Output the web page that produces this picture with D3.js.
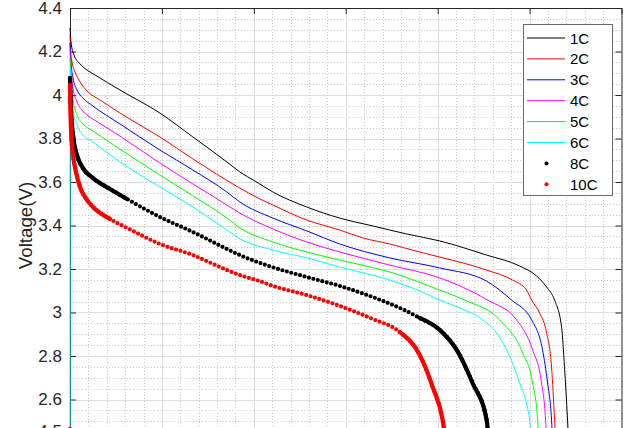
<!DOCTYPE html>
<html><head><meta charset="utf-8">
<script src="https://cdn.jsdelivr.net/npm/d3@7"></script>
<style>
body{margin:0;background:#fff}
svg{display:block;font-family:"Liberation Sans",Arial,Helvetica,sans-serif}
</style>
</head><body>
<svg id="chart" width="625" height="428"></svg>
<script>
// ---------- data ----------
const seriesNames  = ["1C","2C","3C","4C","5C","6C","8C","10C"];
const seriesColors = ["#000000","#ff0000","#0000ff","#ff00ff","#00ff00","#00ffff","#000000","#ff0000"];
const seriesKinds  = ["line","line","line","line","line","line","dots","dots"];

const x1C = [0,0.011,0.043,0.109,0.185,0.272,0.543,0.978,1.337,1.707,1.848,2.011,2.207,2.576,2.935,3.293,3.663,4.022,4.533,4.891,5.076,5.185,5.272,5.348,5.380,5.413,5.424];
const v1C = [4.308,4.244,4.184,4.143,4.115,4.092,4.023,3.917,3.807,3.692,3.646,3.605,3.554,3.485,3.434,3.398,3.361,3.329,3.264,3.214,3.168,3.117,3.057,2.933,2.749,2.506,2.414];

const x2C = [0,0.005,0.022,0.054,0.109,0.196,0.326,0.543,0.978,1.337,1.848,2.065,2.207,2.576,2.935,3.185,3.478,3.804,4.022,4.533,4.815,4.967,5.022,5.109,5.185,5.239,5.272,5.283];
const v2C = [4.276,4.207,4.152,4.106,4.060,4.014,3.977,3.917,3.807,3.706,3.572,3.522,3.494,3.425,3.379,3.343,3.315,3.278,3.255,3.195,3.149,3.103,3.057,2.998,2.906,2.749,2.506,2.414];

const x3C = [0,0.011,0.033,0.076,0.141,0.25,0.543,0.978,1.337,1.707,1.848,2.207,2.576,2.935,3.478,4.022,4.533,4.804,5.022,5.141,5.196,5.239,5.250];
const v3C = [4.239,4.152,4.078,4.023,3.986,3.949,3.867,3.747,3.655,3.554,3.508,3.434,3.375,3.315,3.251,3.205,3.144,3.057,2.966,2.828,2.676,2.506,2.414];

const x4C = [0,0.011,0.033,0.076,0.141,0.25,0.380,0.543,0.978,1.337,1.707,1.848,2.207,2.576,2.935,3.478,4.022,4.543,4.859,5.033,5.130,5.174,5.185];
const v4C = [4.207,4.115,4.032,3.968,3.926,3.889,3.855,3.811,3.687,3.591,3.494,3.457,3.384,3.324,3.278,3.218,3.159,3.057,2.966,2.828,2.676,2.506,2.414];

const x5C = [0,0.011,0.033,0.076,0.141,0.25,0.543,0.978,1.337,1.707,1.848,2.207,2.576,2.935,3.478,4.022,4.293,4.674,4.924,5.033,5.087,5.098];
const v5C = [4.170,4.069,3.977,3.908,3.867,3.834,3.751,3.632,3.536,3.434,3.389,3.324,3.278,3.241,3.186,3.103,3.057,2.966,2.814,2.676,2.506,2.414];

const x6C = [0,0.001,0.011,0.033,0.076,0.141,0.25,0.543,0.978,1.337,1.707,1.848,2.207,2.576,2.935,3.478,3.804,4.022,4.239,4.489,4.641,4.750,4.891,5.0,5.011];
const v6C = [2.40,4.129,4.023,3.931,3.862,3.816,3.784,3.692,3.577,3.485,3.379,3.339,3.287,3.251,3.209,3.149,3.099,3.057,3.021,2.966,2.906,2.828,2.676,2.506,2.414];

const x8C = [0,0.011,0.033,0.076,0.141,0.25,0.435,0.620,0.978,1.337,1.707,1.848,2.207,2.576,2.935,3.293,3.587,3.804,4.022,4.207,4.380,4.533,4.554];
const v8C = [4.078,3.931,3.816,3.724,3.664,3.618,3.568,3.522,3.439,3.370,3.292,3.264,3.208,3.163,3.122,3.071,3.021,2.975,2.920,2.828,2.676,2.506,2.414];

const x10C = [0,0,0.011,0.033,0.065,0.109,0.185,0.25,0.435,0.620,0.978,1.337,1.707,1.848,2.065,2.207,2.576,2.935,3.293,3.587,3.804,3.946,4.054,4.087];
const v10C = [2.465,4.046,3.839,3.724,3.646,3.577,3.517,3.485,3.430,3.389,3.315,3.264,3.195,3.172,3.144,3.122,3.080,3.030,2.970,2.910,2.805,2.657,2.506,2.414];

const seriesX = [x1C,x2C,x3C,x4C,x5C,x6C,x8C,x10C];
const seriesV = [v1C,v2C,v3C,v4C,v5C,v6C,v8C,v10C];

const yTicks      = [2.6,2.8,3.0,3.2,3.4,3.6,3.8,4.0,4.2,4.4];
const yTickLabels = ["2.6","2.8","3","3.2","3.4","3.6","3.8","4","4.2","4.4"];
const xTicks      = [0,1,2,3,4,5,6];
const yLabel = "Voltage(V)";
const nextPanelTickLabel = "4.5";

// ---------- layout ----------
const L = 70, R = 621.5, T = 8, B = 443;
const svg = d3.select("#chart");
const x = d3.scaleLinear().domain([0,6]).range([L,R]);
const y = d3.scaleLinear().domain([2.4,4.4]).range([B,T]);
const axisCol = "#262626";
const snap = v => Math.round(v) + 0.5;

// ---------- grid ----------
const grid = svg.append("g");
const xMinor = d3.range(0, 6.0001, 0.2).filter(v => Math.abs(v - Math.round(v)) > 1e-6);
const yMinor = d3.range(2.4, 4.4001, 0.05).filter(v => Math.abs(v*5 - Math.round(v*5)) > 1e-6);
grid.selectAll(".xm").data(xMinor).join("line")
  .attr("x1", d => snap(x(d))).attr("x2", d => snap(x(d))).attr("y1", T).attr("y2", B)
  .attr("stroke", "#c9c9c9").attr("stroke-width", 1).attr("stroke-dasharray", "1 2");
grid.selectAll(".ym").data(yMinor).join("line")
  .attr("y1", d => snap(y(d))).attr("y2", d => snap(y(d))).attr("x1", L).attr("x2", R)
  .attr("stroke", "#c9c9c9").attr("stroke-width", 1).attr("stroke-dasharray", "1 2");
grid.selectAll(".xM").data(xTicks.slice(1, -1)).join("line")
  .attr("x1", d => snap(x(d))).attr("x2", d => snap(x(d))).attr("y1", T).attr("y2", B)
  .attr("stroke", "#dedede").attr("stroke-width", 1);
grid.selectAll(".yM").data(yTicks.slice(0, -1)).join("line")
  .attr("y1", d => snap(y(d))).attr("y2", d => snap(y(d))).attr("x1", L).attr("x2", R)
  .attr("stroke", "#dedede").attr("stroke-width", 1);

// ---------- axes (ticks pointing inward) ----------
function styleAxis(g){
  g.selectAll("path.domain").attr("stroke", axisCol).attr("stroke-width", 1);
  g.selectAll(".tick line").attr("stroke", axisCol).attr("stroke-width", 1);
  g.selectAll(".tick text").attr("fill", axisCol);
}
const yLabelMap = new Map(yTicks.map((t,i) => [t, yTickLabels[i]]));
svg.append("g").attr("transform", `translate(${L},0)`)
  .call(d3.axisLeft(y).tickValues(yTicks).tickFormat(d => yLabelMap.get(d))
        .tickSizeInner(-6).tickSizeOuter(0).tickPadding(8))
  .call(g => g.selectAll("text").attr("font-size", 17).attr("font-family", "Liberation Sans, Arial, sans-serif"))
  .call(styleAxis);
svg.append("g").attr("transform", `translate(${R},0)`)
  .call(d3.axisRight(y).tickValues(yTicks).tickFormat("").tickSizeInner(-6).tickSizeOuter(0))
  .call(styleAxis);
svg.append("g").attr("transform", `translate(0,${T})`)
  .call(d3.axisTop(x).tickValues(xTicks).tickFormat("").tickSizeInner(-6).tickSizeOuter(0))
  .call(styleAxis);
svg.append("g").attr("transform", `translate(0,${B})`)
  .call(d3.axisBottom(x).tickValues(xTicks).tickFormat("").tickSizeInner(-6).tickSizeOuter(0))
  .call(styleAxis);

svg.append("text")
  .attr("transform", `translate(25,${(T+B)/2}) rotate(-90)`)
  .attr("text-anchor", "middle").attr("dominant-baseline", "central")
  .attr("font-size", 18.7).attr("fill", axisCol).text(yLabel);

// fragment of the next panel's tick label, cut by the picture edge
svg.append("text").attr("x", 62).attr("y", 437).attr("text-anchor", "end")
  .attr("font-size", 17).attr("fill", axisCol).text(nextPanelTickLabel);

// ---------- data ----------
const plot = svg.append("g");
const line = d3.line().x(d => x(d.x)).y(d => y(d.v)).curve(d3.curveMonotoneX);

seriesNames.forEach((name, i) => {
  const pts = seriesX[i].map((xx, j) => ({x: xx, v: seriesV[i][j]}));
  if (seriesKinds[i] === "line") {
    plot.append("path").datum(pts).attr("d", line)
      .attr("fill", "none").attr("stroke", seriesColors[i]).attr("stroke-width", 1);
  } else {
    // split into continuous runs (an isolated first sample is drawn as a lone dot)
    const segs = [[pts[0]]];
    for (let j = 1; j < pts.length; j++) {
      if (pts[j].x === pts[j-1].x && Math.abs(pts[j].v - pts[j-1].v) > 0.5) segs.push([]);
      segs[segs.length-1].push(pts[j]);
    }
    segs.forEach(s => {
      if (s.length === 1) {
        plot.append("circle").attr("cx", x(s[0].x)).attr("cy", y(s[0].v)).attr("r", 2)
          .attr("fill", seriesColors[i]);
        return;
      }
      plot.append("path").datum(s).attr("d", line)
        .attr("fill", "none").attr("stroke", seriesColors[i]).attr("stroke-width", 4.2)
        .attr("stroke-linecap", "round").attr("stroke-dasharray", "0 4.6");
      // where the samples crowd together (steep parts) the markers merge into a solid band
      const runs = []; let cur = null;
      for (let j = 1; j < s.length; j++) {
        const dx = x(s[j].x) - x(s[j-1].x), dy = y(s[j].v) - y(s[j-1].v);
        const steep = Math.abs(dy) > 0.58 * Math.abs(dx);
        if (steep) { if (!cur) { cur = [s[j-1]]; runs.push(cur); } cur.push(s[j]); }
        else cur = null;
      }
      runs.forEach(r => plot.append("path").datum(r).attr("d", line)
        .attr("fill", "none").attr("stroke", seriesColors[i]).attr("stroke-width", 4.2)
        .attr("stroke-linecap", "round"));
    });
  }
});

// ---------- legend ----------
const lg = svg.append("g");
lg.append("rect").attr("x", 523.5).attr("y", 24.5).attr("width", 89).attr("height", 171)
  .attr("fill", "#fff").attr("stroke", "#6a6a6a").attr("stroke-width", 1);
seriesNames.forEach((name, i) => {
  const cy = 38 + i * 20.9;
  if (seriesKinds[i] === "line") {
    lg.append("line").attr("x1", 527).attr("x2", 565).attr("y1", cy).attr("y2", cy)
      .attr("stroke", seriesColors[i]).attr("stroke-width", 1);
  } else {
    lg.append("circle").attr("cx", 546.5).attr("cy", cy).attr("r", 2).attr("fill", seriesColors[i]);
  }
  lg.append("text").attr("x", 570).attr("y", cy).attr("dominant-baseline", "central")
    .attr("font-size", 15).attr("fill", "#000").text(name);
});
</script>
</body></html>
